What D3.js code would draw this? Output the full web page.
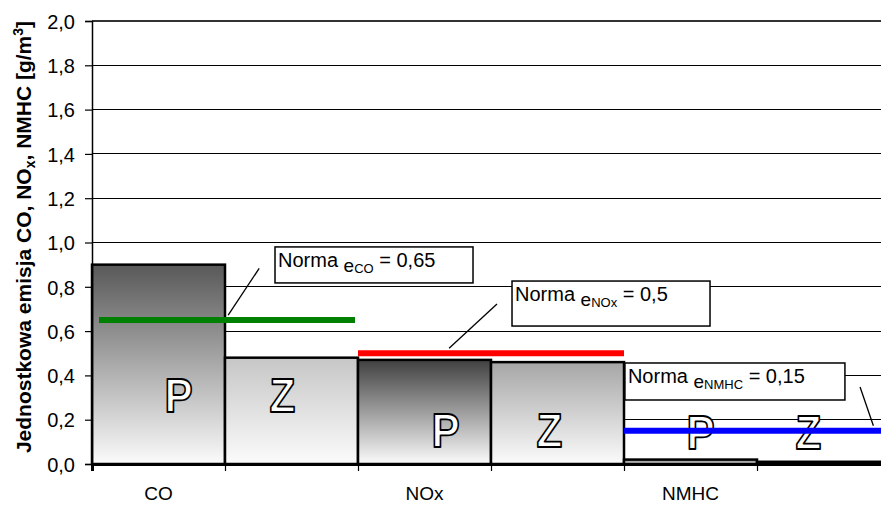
<!DOCTYPE html>
<html>
<head>
<meta charset="utf-8">
<script src="https://cdn.jsdelivr.net/npm/d3@7"></script>
<style>
  html, body { margin: 0; padding: 0; background: #fff; }
  svg { display: block; font-family: "Liberation Sans", Arial, sans-serif; }
</style>
</head>
<body>
<svg id="chart" width="881" height="507"></svg>
<script>
// Emission per bar slot: P and Z for each pollutant
const slotLabels = ["CO", "", "NOx", "", "NMHC", ""];
const slotSeries = ["P", "Z", "P", "Z", "P", "Z"];
const emission = [0.90, 0.48, 0.47, 0.46, 0.02, 0.01];

// Limit values (norms) per pollutant
const normNames = ["CO", "NOx", "NMHC"];
const normValues = [0.65, 0.5, 0.15];

const yTickValues = [0, 0.2, 0.4, 0.6, 0.8, 1.0, 1.2, 1.4, 1.6, 1.8, 2.0];

// ---- layout ----
const plot = { left: 92, right: 890, top: 21, bottom: 464 };

const svg = d3.select("#chart");
const defs = svg.append("defs");

const slots = d3.range(slotLabels.length);
const x = d3.scaleBand().domain(slots).range([plot.left, plot.right]).padding(0);
const xEdge = d3.scaleLinear().domain([0, slots.length]).range([plot.left, plot.right]);
const y = d3.scaleLinear().domain([0, 2]).range([plot.bottom, plot.top]);

const comma = v => String(v).replace(".", ",");
const fmtTick = v => d3.format(".1f")(v).replace(".", ",");

// gridlines
svg.append("g").selectAll("line")
  .data(yTickValues.filter(v => v > 0))
  .join("line")
  .attr("x1", plot.left).attr("x2", plot.right)
  .attr("y1", d => y(d)).attr("y2", d => y(d))
  .attr("stroke", d => d === 2 ? "#333" : "#000")
  .attr("stroke-width", d => d === 2 ? 2 : 1)
  .attr("shape-rendering", "crispEdges");

// bar gradients: dark grey at the top fading to near white
const barTop = ["#585858", "#c6c6c6", "#404040", "#a6a6a6", "#6a6a6a", "#111111"];
slots.forEach(i => {
  const g = defs.append("linearGradient")
    .attr("id", "grad" + i)
    .attr("x1", 0).attr("y1", 0).attr("x2", 0).attr("y2", 1);
  g.append("stop").attr("offset", "0%").attr("stop-color", barTop[i]);
  g.append("stop").attr("offset", "100%").attr("stop-color", "#fbfbfb");
});

// bars
svg.append("g").selectAll("rect")
  .data(slots)
  .join("rect")
  .attr("x", i => x(i))
  .attr("width", x.bandwidth())
  .attr("y", i => y(emission[i]))
  .attr("height", i => y(0) - y(emission[i]))
  .attr("fill", i => `url(#grad${i})`)
  .attr("stroke", "#000")
  .attr("stroke-width", 2.5);

// P / Z letters inside the bars (outlined white glyphs)
const letterPlace = [
  { dx: 20, v: 0.235 }, { dx: -9, v: 0.235 },
  { dx: 21, v: 0.077 }, { dx: -8, v: 0.077 },
  { dx: 10, v: 0.068 }, { dx: -15, v: 0.068 }
];
svg.append("g").selectAll("text")
  .data(slots)
  .join("text")
  .attr("transform", i => `translate(${x(i) + x.bandwidth() / 2 + letterPlace[i].dx},${y(letterPlace[i].v)}) scale(0.88,1)`)
  .attr("text-anchor", "middle")
  .attr("font-size", 48)
  .attr("font-weight", "bold")
  .attr("fill", "#fff")
  .attr("stroke", "#000")
  .attr("stroke-width", 1.8)
  .attr("stroke-linejoin", "round")
  .text(i => slotSeries[i]);

// norm lines, each spanning its pollutant's P and Z slots
const normColors = ["#008000", "#ff0000", "#0000ff"];
const normInset = [7, 0, 0];
svg.append("g").selectAll("line")
  .data(normNames.map((n, k) => k))
  .join("line")
  .attr("x1", k => xEdge(2 * k) + normInset[k])
  .attr("x2", k => xEdge(2 * k + 2) - (k === 0 ? 3 : 0))
  .attr("y1", k => y(normValues[k]))
  .attr("y2", k => y(normValues[k]))
  .attr("stroke", k => normColors[k])
  .attr("stroke-width", 6);

// y axis
const yAxis = d3.axisLeft(y).tickValues(yTickValues).tickSize(7).tickPadding(10).tickFormat(fmtTick);
const gy = svg.append("g").attr("transform", `translate(${plot.left},0)`).call(yAxis);
gy.select(".domain").attr("stroke", "#000").attr("stroke-width", 1.5);
gy.selectAll(".tick line").attr("stroke", "#000").attr("stroke-width", 1.2);
gy.selectAll(".tick text")
  .attr("font-family", "Liberation Sans, Arial, sans-serif")
  .attr("font-size", 20).attr("fill", "#000")
  .attr("dy", "0.36em");

// x axis: ticks at slot edges, labels at slot centres
const gxTicks = svg.append("g").attr("transform", `translate(0,${plot.bottom})`)
  .call(d3.axisBottom(xEdge).tickValues(d3.range(slots.length + 1)).tickSize(7).tickFormat(""));
gxTicks.select(".domain").attr("stroke", "#000").attr("stroke-width", 3);
gxTicks.selectAll(".tick line").attr("stroke", "#000").attr("stroke-width", 1.2);

const gxLabels = svg.append("g").attr("transform", `translate(0,${plot.bottom})`)
  .call(d3.axisBottom(x).tickSize(0).tickPadding(23).tickFormat(i => slotLabels[i]));
gxLabels.select(".domain").remove();
gxLabels.selectAll(".tick text")
  .attr("font-family", "Liberation Sans, Arial, sans-serif")
  .attr("font-size", 19).attr("fill", "#000");

// y axis title
const title = svg.append("text")
  .attr("transform", `translate(31,237) rotate(-90)`)
  .attr("text-anchor", "middle")
  .attr("font-size", 21)
  .attr("font-weight", "bold");
title.append("tspan").text("Jednostkowa emisja CO, NO");
title.append("tspan").attr("font-size", 14).attr("dy", 4).text("x");
title.append("tspan").attr("dy", -4).text(", NMHC [g/m");
title.append("tspan").attr("font-size", 14).attr("dy", -8).text("3");
title.append("tspan").attr("dy", 8).text("]");

// callouts naming each norm value
const callouts = [
  { box: [1.376, 0.980, 198, 36], from: [1.257, 0.883], toDx: -0.233 },
  { box: [3.158, 0.826, 198, 45], from: [3.045, 0.722], toDx: -0.36 },
  { box: [4.007, 0.456, 220, 37], from: [5.775, 0.348], toDx: 0.1 }
];
callouts.forEach((c, k) => {
  const g = svg.append("g");
  const bx = xEdge(c.box[0]), by = y(c.box[1]);
  const fx = xEdge(c.from[0]), fy = y(c.from[1]);
  const tx = fx + c.toDx * x.bandwidth(), ty = y(normValues[k]) - 5;
  g.append("line")
    .attr("x1", fx).attr("y1", fy).attr("x2", tx).attr("y2", ty)
    .attr("stroke", "#000").attr("stroke-width", 1.3);
  g.append("rect")
    .attr("x", bx).attr("y", by).attr("width", c.box[2]).attr("height", c.box[3])
    .attr("fill", "#fff").attr("stroke", "#000").attr("stroke-width", 1.5);
  const t = g.append("text").attr("x", bx + 3).attr("y", by + 20).attr("font-size", 20);
  t.append("tspan").text("Norma ");
  t.append("tspan").attr("font-size", 19).attr("dy", 5).text("e");
  t.append("tspan").attr("font-size", 13).attr("dy", 1).text(normNames[k]);
  t.append("tspan").attr("dy", -6).text(" = " + comma(normValues[k]));
});
</script>
</body>
</html>
